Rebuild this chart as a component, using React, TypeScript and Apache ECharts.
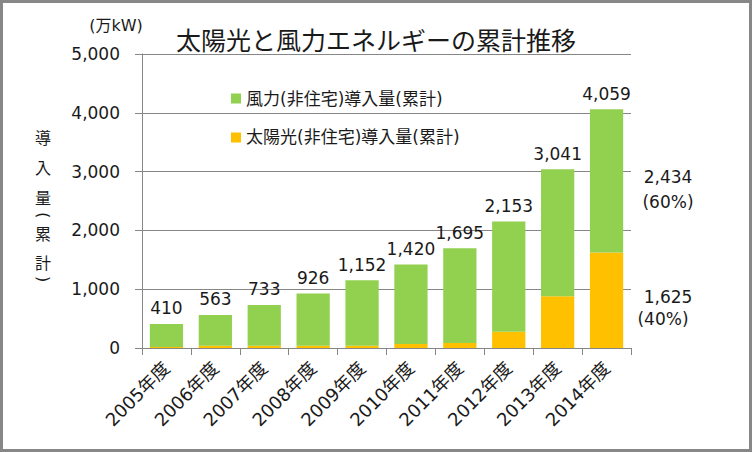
import React, { useEffect, useRef } from "react";
import * as echarts from "echarts";

const categories = ["2005年度", "2006年度", "2007年度", "2008年度", "2009年度", "2010年度", "2011年度", "2012年度", "2013年度", "2014年度"];
const solarValues = [15, 40, 40, 40, 40, 70, 85, 275, 880, 1625];
const windValues = [395, 523, 693, 886, 1112, 1350, 1610, 1878, 2161, 2434];
const windName = "風力(非住宅)導入量(累計)";
const solarName = "太陽光(非住宅)導入量(累計)";
const titleText = "太陽光と風力エネルギーの累計推移";
const unitText = "(万kW)";
const yTitleChars = ["導", "入", "量", "(", "累", "計", ")"];
const yTitleY = [138, 168, 198, 215, 234, 263, 279];

const FONT = "DejaVu Sans, 'Noto Sans CJK JP', sans-serif";
const TXT = "#1a1a1a";
const GRID = "#868686";

const fmt = (v: number) => v.toLocaleString("en-US");

export default function App() {
  const ref = useRef<HTMLDivElement>(null);
  useEffect(() => {
    document.body.style.margin = "0";
    if (!ref.current) return;
    const chart = echarts.init(ref.current, null, { renderer: "svg" });
    const totals = solarValues.map((s, i) => s + windValues[i]);
    const last = categories.length - 1;
    const lastTotal = totals[last];
    const windPct = Math.round((windValues[last] / lastTotal) * 100);
    const solarPct = Math.round((solarValues[last] / lastTotal) * 100);

    chart.setOption({
      animation: false,
      textStyle: { fontFamily: FONT },
      title: {
        text: titleText,
        left: "center",
        top: 24,
        textStyle: { fontFamily: FONT, fontSize: 25, fontWeight: "normal", color: TXT },
      },
      legend: {
        orient: "vertical",
        left: 226,
        top: 85,
        itemWidth: 10,
        itemHeight: 10,
        itemGap: 22,
        icon: "rect",
        data: [windName, solarName],
        textStyle: { fontFamily: FONT, fontSize: 17, color: TXT },
      },
      grid: { left: 142, right: 121, top: 54, bottom: 104, containLabel: false },
      xAxis: {
        type: "category",
        data: categories,
        axisLine: { show: true, lineStyle: { color: GRID, width: 1 } },
        axisTick: { show: true, length: 7, lineStyle: { color: GRID } },
        axisLabel: { rotate: 45, fontSize: 18, color: TXT, margin: 17, fontFamily: FONT },
      },
      yAxis: {
        type: "value",
        min: 0,
        max: 5000,
        interval: 1000,
        axisLine: { show: true, lineStyle: { color: GRID, width: 1 } },
        axisTick: { show: true, length: 7, lineStyle: { color: GRID } },
        splitLine: { show: true, lineStyle: { color: GRID, width: 1 } },
        axisLabel: { fontSize: 17, color: TXT, margin: 22, formatter: (v: number) => fmt(v), fontFamily: FONT },
      },
      series: [
        {
          name: solarName,
          type: "bar",
          stack: "total",
          data: solarValues,
          barCategoryGap: "32%",
          itemStyle: { color: "#FFC000" },
        },
        {
          name: windName,
          type: "bar",
          stack: "total",
          data: windValues,
          barCategoryGap: "32%",
          itemStyle: { color: "#92D050" },
          label: {
            show: true,
            position: "top",
            distance: 7,
            fontSize: 17,
            color: TXT,
            fontFamily: FONT,
            formatter: (p: any) => fmt(totals[p.dataIndex]),
          },
        },
      ],
      graphic: [
        {
          type: "rect",
          shape: { x: 1.5, y: 1.5, width: 749, height: 449 },
          style: { fill: "none", stroke: "#878787", lineWidth: 3 },
          silent: true,
        },
        {
          type: "text",
          x: 116,
          y: 25,
          style: { text: unitText, fontSize: 16, fill: TXT, fontFamily: FONT, textAlign: "center", textVerticalAlign: "middle" },
        },
        ...yTitleChars.map((c, i) => ({
          type: "text",
          x: 43,
          y: yTitleY[i],
          rotation: c === "(" || c === ")" ? -Math.PI / 2 : 0,
          style: { text: c, fontSize: 16, fill: TXT, fontFamily: FONT, textAlign: "center", textVerticalAlign: "middle" },
        })),
        {
          type: "text",
          x: 668,
          y: 177,
          style: { text: fmt(windValues[last]), fontSize: 17, fill: TXT, fontFamily: FONT, textAlign: "center", textVerticalAlign: "middle" },
        },
        {
          type: "text",
          x: 668,
          y: 202,
          style: { text: `(${windPct}%)`, fontSize: 17, fill: TXT, fontFamily: FONT, textAlign: "center", textVerticalAlign: "middle" },
        },
        {
          type: "text",
          x: 668,
          y: 297,
          style: { text: fmt(solarValues[last]), fontSize: 17, fill: TXT, fontFamily: FONT, textAlign: "center", textVerticalAlign: "middle" },
        },
        {
          type: "text",
          x: 663,
          y: 319,
          style: { text: `(${solarPct}%)`, fontSize: 17, fill: TXT, fontFamily: FONT, textAlign: "center", textVerticalAlign: "middle" },
        },
      ],
    });
    return () => chart.dispose();
  }, []);
  return <div ref={ref} style={{ width: 752, height: 452 }} />;
}
